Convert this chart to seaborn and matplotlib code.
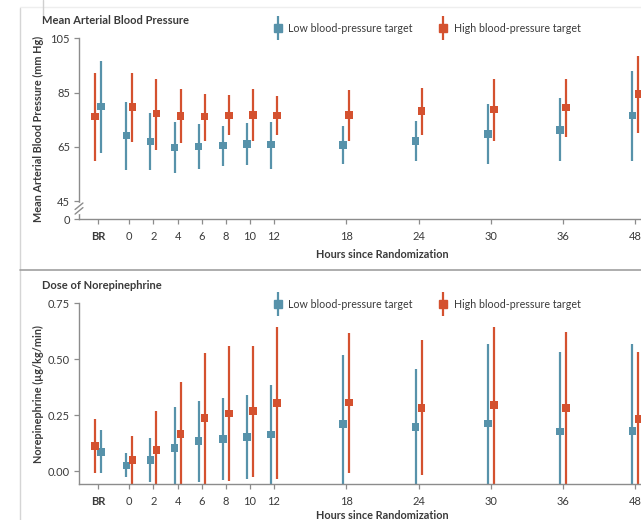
import numpy as np
import pandas as pd
import matplotlib
matplotlib.use('Agg')
import matplotlib.pyplot as plt
import seaborn as sns
from matplotlib.lines import Line2D
from matplotlib.legend_handler import HandlerTuple

# Time points (BR = before randomization)
times = ['BR', '0', '2', '4', '6', '8', '10', '12', '18', '24', '30', '36', '48']

# Mean arterial pressure (mm Hg): point, lower, upper
map_low = [79.8, 69.2, 66.9, 64.7, 65.1, 65.5, 66.0, 65.8, 65.7, 67.1, 69.8, 71.2, 76.5]
map_low_lo = [62.7, 56.3, 56.5, 55.3, 56.8, 58.0, 58.4, 56.9, 58.6, 59.6, 58.6, 59.8, 59.9]
map_low_hi = [96.8, 81.7, 77.4, 74.3, 73.5, 72.7, 73.7, 74.3, 72.5, 74.5, 80.9, 82.9, 93.1]
map_high = [76.2, 79.6, 77.3, 76.4, 76.2, 76.5, 76.8, 76.5, 76.8, 78.2, 78.7, 79.5, 84.5]
map_high_lo = [59.6, 66.6, 63.9, 66.4, 67.2, 69.2, 67.2, 69.2, 67.3, 69.2, 67.3, 68.6, 70.0]
map_high_hi = [92.3, 92.3, 90.0, 86.3, 84.6, 84.1, 86.3, 83.9, 85.9, 86.8, 90.0, 90.0, 98.6]

# Norepinephrine dose (ug/kg/min): point, lower, upper
ne_low = [0.086, 0.025, 0.049, 0.104, 0.134, 0.142, 0.153, 0.164, 0.210, 0.197, 0.213, 0.176, 0.179]
ne_low_lo = [-0.007, -0.028, -0.048, -0.08, -0.048, -0.040, -0.037, -0.08, -0.08, -0.08, -0.08, -0.08, -0.08]
ne_low_hi = [0.183, 0.079, 0.146, 0.285, 0.314, 0.325, 0.340, 0.385, 0.519, 0.455, 0.568, 0.534, 0.568]
ne_high = [0.112, 0.049, 0.095, 0.165, 0.237, 0.258, 0.268, 0.303, 0.306, 0.283, 0.295, 0.283, 0.233]
ne_high_lo = [-0.010, -0.08, -0.08, -0.08, -0.08, -0.045, -0.025, -0.037, -0.010, -0.018, -0.08, -0.08, -0.08]
ne_high_hi = [0.231, 0.157, 0.270, 0.400, 0.526, 0.559, 0.560, 0.643, 0.619, 0.586, 0.643, 0.623, 0.534]

BLUE = '#5792aa'
RED = '#d4512f'
GRAY = '#8c8c8c'
TXT = '#3a3a3a'

sns.set_style('ticks')
plt.rcParams['font.family'] = ['Lato', 'DejaVu Sans']


def slot(label):
    # first hours every 2 h, later points spaced wider, BR before 0
    if label == 'BR':
        return -1.3
    i = times.index(label) - 1
    return i if i <= 6 else 6 + 3 * (i - 6)


def long_form(low, low_lo, low_hi, high, high_lo, high_hi):
    rows = []
    for k, t in enumerate(times):
        d = 0.125 if t != 'BR' else -0.125
        rows.append(dict(pos=slot(t) - d, val=low[k], lo=low_lo[k], hi=low_hi[k], group='Low'))
        rows.append(dict(pos=slot(t) + d, val=high[k], lo=high_lo[k], hi=high_hi[k], group='High'))
    return pd.DataFrame(rows)


def draw_panel(ax, df, title, ylabel, yticks, yticklabels, ylim, legend_y, xlab_y):
    for g, c in [('Low', BLUE), ('High', RED)]:
        sub = df[df.group == g]
        ax.vlines(sub.pos, sub.lo, sub.hi, colors=c, lw=1.6, zorder=2)
    sns.scatterplot(data=df, x='pos', y='val', hue='group', palette={'Low': BLUE, 'High': RED},
                    marker='s', s=30, linewidth=0, legend=False, ax=ax, zorder=3)
    ax.set_xlim(-2.09, 21.23)
    ax.set_ylim(*ylim)
    ax.set_xticks([slot(t) for t in times])
    ax.set_xticklabels(times)
    ax.get_xticklabels()[0].set_fontweight('bold')
    ax.set_yticks(yticks)
    ax.set_yticklabels(yticklabels)
    sns.despine(ax=ax, right=True, top=True)
    for s in ['left', 'bottom']:
        ax.spines[s].set_color(GRAY)
        ax.spines[s].set_linewidth(1.0)
    ax.tick_params(axis='both', colors=GRAY, labelcolor=TXT, labelsize=8, length=3.5, width=0.9, pad=3)
    ax.tick_params(axis='x', pad=5)
    ax.set_xlabel('Hours since Randomization', fontsize=7.8, fontweight='bold', color=TXT)
    ax.xaxis.set_label_coords(0.54, xlab_y)
    ax.set_ylabel(ylabel, fontsize=7.8, fontweight='bold', color=TXT)
    ax.yaxis.set_label_coords(-0.063, 0.5)
    ax.text(-0.066, 1.10, title, transform=ax.transAxes, fontsize=8, fontweight='bold', color=TXT,
            ha='left', va='center')
    handles = [
        (Line2D([], [], color=BLUE, marker='|', ms=17, mew=1.6, ls='none'),
         Line2D([], [], color=BLUE, marker='s', ms=5.5, ls='none')),
        (Line2D([], [], color=RED, marker='|', ms=17, mew=1.6, ls='none'),
         Line2D([], [], color=RED, marker='s', ms=5.5, ls='none')),
    ]
    leg = ax.legend(handles, ['Low blood-pressure target', 'High blood-pressure target'],
                    handler_map={tuple: HandlerTuple(ndivide=1, pad=0)}, ncol=2, frameon=False,
                    loc='center', bbox_to_anchor=(0.62, legend_y), fontsize=7.7, handlelength=0.7,
                    handletextpad=0.6, columnspacing=2.5)
    for t in leg.get_texts():
        t.set_color(TXT)


fig = plt.figure(figsize=(6.41, 5.20), dpi=100)
W, H = 641, 520
ax1 = fig.add_axes([79 / W, 1 - 219 / H, (W - 79) / W, (219 - 38.3) / H])
ax2 = fig.add_axes([79 / W, 1 - 484 / H, (W - 79) / W, (484 - 303.3) / H])

df_map = long_form(map_low, map_low_lo, map_low_hi, map_high, map_high_lo, map_high_hi)
draw_panel(ax1, df_map, 'Mean Arterial Blood Pressure', 'Mean Arterial Blood Pressure (mm Hg)',
           [38.4, 45, 65, 85, 105], ['0', '45', '65', '85', '105'], (38.4, 105), 1.055, -0.165)

df_ne = long_form(ne_low, ne_low_lo, ne_low_hi, ne_high, ne_high_lo, ne_high_hi)
draw_panel(ax2, df_ne, 'Dose of Norepinephrine', 'Norepinephrine (µg/kg/min)',
           [0, 0.25, 0.5, 0.75], ['0.00', '0.25', '0.50', '0.75'], (-0.058, 0.75), 0.995, -0.145)

# axis break on the pressure scale
tr = matplotlib.transforms.blended_transform_factory(ax1.transAxes, ax1.transData)
ax1.plot([0, 0], [40.8, 44.0], color='white', lw=2.5, transform=tr, clip_on=False, zorder=4)
for yb in (40.2, 41.9):
    ax1.plot([-0.007, 0.007], [yb, yb + 2.4], color=GRAY, lw=1.0, transform=tr, clip_on=False, zorder=5)

# panel frame lines from the page
fig.add_artist(Line2D([20 / W, 20 / W], [0, 1 - 8 / H], color='#d5d5d5', lw=1))
fig.add_artist(Line2D([20 / W, 1], [1 - 270 / H, 1 - 270 / H], color='#a0a0a0', lw=1.2))
fig.add_artist(Line2D([20 / W, 1], [1 - 7 / H, 1 - 7 / H], color='#eeeeee', lw=1))
fig.add_artist(Line2D([43 / W, 43 / W], [1 - 15 / H, 1], color='#cfcfcf', lw=1))

fig.savefig('out.png', dpi=100)
